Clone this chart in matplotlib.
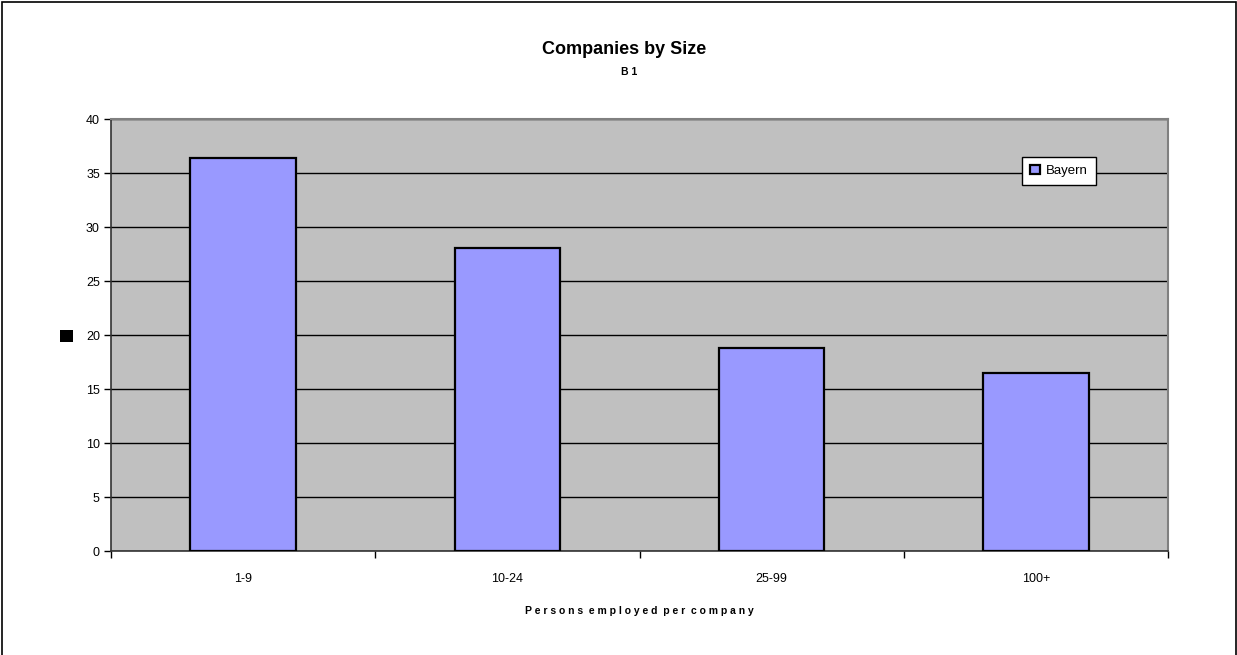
import matplotlib.pyplot as plt
import matplotlib.patches as mpatches
import numpy as np

# company size classes and shares for Bayern
categories = ["1-9", "10-24", "25-99", "100+"]
bayern = [36.4, 28.1, 18.8, 16.45]
y_ticks = [0, 5, 10, 15, 20, 25, 30, 35, 40]

plt.rcParams["font.family"] = ["Liberation Sans", "DejaVu Sans"]

fig = plt.figure(figsize=(12.37, 6.55), dpi=100)
W, H = 1237, 655
ax = fig.add_axes([111 / W, 1 - 551 / H, (1168 - 111) / W, (551 - 119) / H])

x = np.arange(len(categories))
ax.set_facecolor("#C0C0C0")
ax.set_axisbelow(True)
ax.yaxis.grid(True, color="black", linewidth=1.0)
ax.bar(x, bayern, width=0.4, color="#9999FF", edgecolor="black",
       linewidth=1.6, label="Bayern", zorder=3)

ax.set_xlim(-0.5, len(categories) - 0.5)
ax.set_ylim(0, 40)
ax.set_yticks(y_ticks)
ax.set_yticklabels([str(v) for v in y_ticks], fontsize=9)

# ticks sit on the category borders, labels in the middle
ax.set_xticks(np.arange(len(categories) + 1) - 0.5)
ax.set_xticklabels([])
ax.set_xticks(x, minor=True)
ax.set_xticklabels(categories, minor=True, fontsize=9)
ax.tick_params(axis="x", which="minor", length=0, pad=0)
ax.tick_params(axis="x", which="major", length=5, width=1, direction="out")
ax.tick_params(axis="y", length=5, width=1, direction="out", pad=3)

# category labels at a fixed height below the axis
for lbl in ax.get_xticklabels(minor=True):
    lbl.set_va("center")
    lbl.set_y(-(579 - 551) / (551 - 119))

for side in ["top", "right"]:
    ax.spines[side].set_color("#808080")
    ax.spines[side].set_linewidth(1.5)
for side in ["left", "bottom"]:
    ax.spines[side].set_color("#333333")
    ax.spines[side].set_linewidth(1.2)

ax.set_xlabel("P e r s o n s  e m p l o y e d  p e r  c o m p a n y",
              fontsize=7.5, fontweight="bold")
ax.xaxis.set_label_coords(0.5, -(606 - 551) / (551 - 119))

leg = ax.legend(loc="center", bbox_to_anchor=((1059 - 111) / (1168 - 111),
                (551 - 171) / (551 - 119)),
                fontsize=9.5, frameon=True, fancybox=False, handlelength=0.75,
                handleheight=0.75, handletextpad=0.45, borderpad=0.6,
                borderaxespad=0)
leg.get_frame().set_edgecolor("black")
leg.get_frame().set_linewidth(1.0)
leg.get_frame().set_facecolor("white")
leg.get_frame().set_alpha(1)

fig.text(624 / W, 1 - 50 / H, "Companies by Size", ha="center", va="center",
         fontsize=13, fontweight="bold")
fig.text(629 / W, 1 - 72 / H, "B 1", ha="center", va="center",
         fontsize=7.5, fontweight="bold")

# small black marker left of the value axis
fig.patches.append(mpatches.Rectangle((60 / W, 1 - 342 / H), 13 / W, 12 / H,
                                      transform=fig.transFigure,
                                      facecolor="black", edgecolor="none"))

# outer frame of the chart
fig.patches.append(mpatches.Rectangle((1.5 / W, -0.01), (W - 3) / W, 1.0 - 1.5 / H + 0.01,
                                      transform=fig.transFigure,
                                      facecolor="none", edgecolor="black",
                                      linewidth=1.2))

fig.savefig("out.png", dpi=100)
